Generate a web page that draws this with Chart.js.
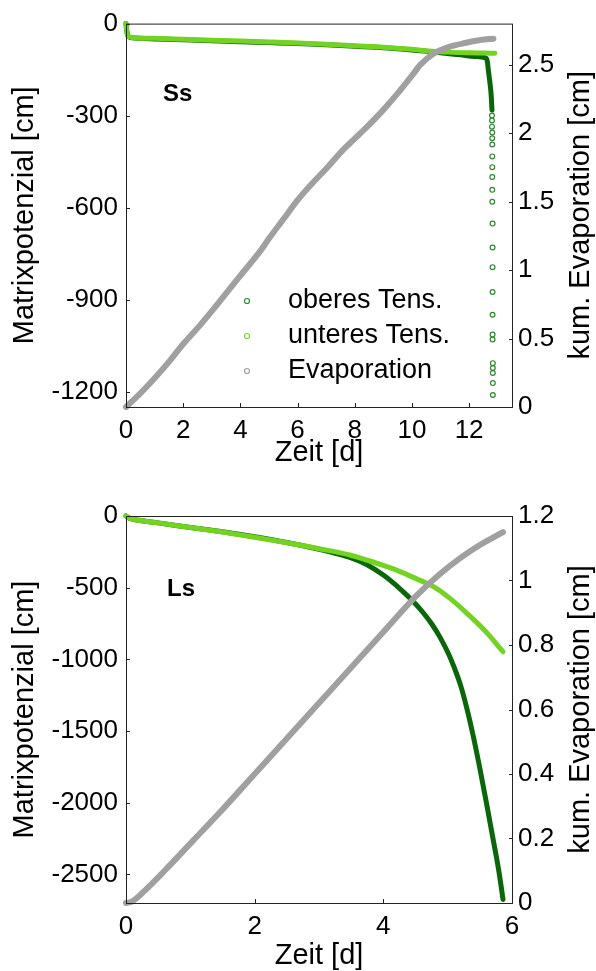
<!DOCTYPE html>
<html>
<head>
<meta charset="utf-8">
<script src="https://cdn.jsdelivr.net/npm/chart.js@4.4.0/dist/chart.umd.min.js"></script>
<style>
  html, body { margin: 0; padding: 0; background: #fff; }
  canvas { display: block; }
</style>
</head>
<body>
<canvas id="chartSs" width="596" height="486"></canvas>
<canvas id="chartLs" width="596" height="485"></canvas>
<script>
// Werte
const serienNamen = ['oberes Tens.', 'unteres Tens.', 'Evaporation'];

// --- Ss ---
const ssZeitTicks = [0, 2, 4, 6, 8, 10, 12];
const ssPotTicks = [0, -300, -600, -900, -1200];
const ssEvapTicks = [0, 0.5, 1, 1.5, 2, 2.5];

const ssOberesZeit = [0, 0.03, 0.08, 0.3, 1, 2, 3, 4, 5, 6, 7, 8, 9, 10, 11, 11.7, 12.2, 12.6, 12.64, 12.67, 12.7, 12.73, 12.76, 12.78, 12.79, 12.8];
const ssOberesPot = [0, -25, -42, -47, -50, -53, -56, -59, -62, -65, -69, -74, -79, -86, -95, -102, -107, -113, -125, -150, -172, -194, -220, -245, -265, -282];
// einzelne Messpunkte am Ende (Kreise)
const ssOberesEndeZeit = [12.8, 12.8, 12.8, 12.81, 12.81, 12.81, 12.81, 12.81, 12.81, 12.81, 12.81, 12.82, 12.82, 12.82, 12.82, 12.82, 12.82, 12.82, 12.83, 12.83, 12.83, 12.83, 12.83];
const ssOberesEndePot = [-300, -316, -336, -355, -374, -394, -433, -468, -500, -542, -581, -652, -730, -794, -875, -949, -1014, -1030, -1107, -1123, -1139, -1172, -1211];

const ssUnteresZeit = [0, 0.02, 0.05, 0.2, 1, 2, 3, 4, 5, 6, 7, 8, 9, 10, 10.7, 11.3, 12, 12.5, 12.9];
const ssUnteresPot = [0, -20, -38, -45, -48, -51, -54, -57, -60, -63, -67, -72, -77, -84, -90, -93, -95, -96, -97];

const ssEvapZeit = [0, 0.5, 1, 1.5, 2, 2.6, 3, 3.5, 4, 4.7, 5, 5.5, 6, 6.5, 7, 7.6, 8, 8.4, 9, 9.5, 10, 10.3, 10.75, 11.3, 11.9, 12.4, 12.85];
const ssEvapKum = [0, 0.1, 0.21, 0.33, 0.46, 0.6, 0.7, 0.83, 0.96, 1.14, 1.23, 1.37, 1.51, 1.63, 1.74, 1.88, 1.96, 2.04, 2.17, 2.29, 2.42, 2.5, 2.58, 2.63, 2.66, 2.68, 2.69];

// --- Ls ---
const lsZeitTicks = [0, 2, 4, 6];
const lsPotTicks = [0, -500, -1000, -1500, -2000, -2500];
const lsEvapTicks = [0, 0.2, 0.4, 0.6, 0.8, 1, 1.2];

const lsOberesZeit = [0, 0.05, 0.2, 0.5, 1, 1.5, 2, 2.5, 3, 3.3, 3.5, 3.74, 4, 4.26, 4.45, 4.62, 4.75, 4.88, 5.02, 5.1, 5.2, 5.3, 5.4, 5.5, 5.6, 5.7, 5.8, 5.86];
const lsOberesPot = [0, -15, -30, -48, -80, -110, -145, -185, -232, -265, -292, -338, -412, -508, -590, -675, -752, -845, -968, -1055, -1180, -1345, -1540, -1760, -1995, -2240, -2490, -2675];

const lsUnteresZeit = [0, 0.05, 0.2, 0.5, 1, 1.5, 2, 2.7, 3, 3.48, 3.74, 4, 4.26, 4.5, 4.78, 5.05, 5.3, 5.6, 5.86];
const lsUnteresPot = [0, -15, -30, -48, -80, -112, -148, -202, -228, -272, -307, -345, -388, -435, -493, -580, -679, -810, -947];

const lsEvapZeit = [0, 0.1, 0.3, 0.6, 1.05, 1.5, 2, 2.5, 3, 3.5, 4, 4.5, 4.88, 5.2, 5.5, 5.86];
const lsEvapKum = [0, 0.005, 0.04, 0.1, 0.195, 0.29, 0.4, 0.51, 0.62, 0.73, 0.84, 0.95, 1.02, 1.07, 1.11, 1.15];

const dunkelgruen = '#086808';
const hellgruen = '#72d420';
const grau = '#a0a0a0';
const kreisgruen = '#2a8c2a';
const familie = "'Liberation Sans', Arial, sans-serif";
const schrift = { family: familie, size: 26 };
const titelSchrift = { family: familie, size: 29 };

Chart.defaults.font.family = familie;
Chart.defaults.color = '#000';

function punkte(xs, ys) {
  return xs.map((x, i) => ({ x: x, y: ys[i] }));
}

function festeTicks(werte) {
  return scale => { scale.ticks = werte.map(v => ({ value: v })); };
}

// Rahmen, Ticks nach innen, rechter Achsentitel, Legende, Panelname
const rahmen = {
  id: 'rahmen',
  afterDraw(chart, args, opts) {
    const ctx = chart.ctx;
    const a = chart.chartArea;
    const s = chart.scales;
    ctx.save();
    ctx.strokeStyle = '#222';
    ctx.lineWidth = 1;
    ctx.strokeRect(a.left + 0.5, a.top + 0.5, a.right - a.left, a.bottom - a.top);
    ctx.beginPath();
    s.x.ticks.forEach(t => {
      const px = Math.round(s.x.getPixelForValue(t.value)) + 0.5;
      ctx.moveTo(px, a.bottom); ctx.lineTo(px, a.bottom - 4);
    });
    s.y.ticks.forEach(t => {
      const py = Math.round(s.y.getPixelForValue(t.value)) + 0.5;
      ctx.moveTo(a.left, py); ctx.lineTo(a.left + 4, py);
    });
    s.y2.ticks.forEach(t => {
      const py = Math.round(s.y2.getPixelForValue(t.value)) + 0.5;
      ctx.moveTo(a.right + 1, py); ctx.lineTo(a.right - 3, py);
    });
    ctx.stroke();

    // rechter Titel, von unten nach oben
    ctx.fillStyle = '#000';
    ctx.font = titelSchrift.size + 'px ' + familie;
    ctx.textAlign = 'center';
    ctx.textBaseline = 'middle';
    ctx.save();
    ctx.translate(581, (a.top + a.bottom) / 2);
    ctx.rotate(-Math.PI / 2);
    ctx.fillText('kum. Evaporation [cm]', 0, 0);
    ctx.restore();

    // Panelname
    ctx.font = 'bold 24px ' + familie;
    ctx.textAlign = 'left';
    ctx.fillText(opts.panel, opts.panelX, opts.panelY);

    if (opts.legende) {
      const farben = [kreisgruen, '#7ad63a', grau];
      ctx.font = '27px ' + familie;
      serienNamen.forEach((name, i) => {
        const y = 301 + i * 35;
        ctx.strokeStyle = farben[i];
        ctx.lineWidth = 1.2;
        ctx.beginPath();
        ctx.arc(247, y, 2.5, 0, Math.PI * 2);
        ctx.stroke();
        ctx.fillStyle = '#000';
        ctx.fillText(name, 288, y);
      });
    }
    ctx.restore();
  }
};

function linie(label, daten, farbe, breite, reihenfolge, achse) {
  return {
    label: label,
    data: daten,
    showLine: true,
    borderColor: farbe,
    backgroundColor: farbe,
    borderWidth: breite,
    borderCapStyle: 'round',
    borderJoinStyle: 'round',
    pointRadius: 0,
    cubicInterpolationMode: 'monotone',
    clip: false,
    order: reihenfolge,
    yAxisID: achse
  };
}

function optionen(cfg) {
  return {
    responsive: false,
    animation: false,
    layout: { padding: { top: cfg.oben, left: 0, right: 0, bottom: 0 } },
    plugins: {
      legend: { display: false },
      tooltip: { enabled: false },
      rahmen: { panel: cfg.panel, panelX: cfg.panelX, panelY: cfg.panelY, legende: cfg.legende }
    },
    scales: {
      x: {
        type: 'linear', position: 'bottom', min: 0, max: cfg.zeitMax,
        afterBuildTicks: festeTicks(cfg.zeitTicks),
        afterFit: s => { s.height = cfg.xHoehe; },
        grid: { display: false, drawTicks: false },
        border: { display: false },
        ticks: { font: schrift, color: '#000', padding: 8, maxRotation: 0, autoSkip: false, callback: v => String(v) },
        title: { display: true, text: 'Zeit [d]', font: titelSchrift, color: '#000', padding: { top: 0, bottom: cfg.titelUnten } }
      },
      y: {
        type: 'linear', position: 'left', min: cfg.potMin, max: 0,
        afterBuildTicks: festeTicks(cfg.potTicks),
        afterFit: s => { s.width = 126; },
        grid: { display: false, drawTicks: false },
        border: { display: false },
        ticks: { font: schrift, color: '#000', padding: 8, autoSkip: false, callback: v => String(v) },
        title: { display: true, text: 'Matrixpotenzial [cm]', font: titelSchrift, color: '#000', padding: { top: 8, bottom: 0 } }
      },
      y2: {
        type: 'linear', position: 'right', min: 0, max: cfg.evapMax,
        afterBuildTicks: festeTicks(cfg.evapTicks),
        afterFit: s => { s.width = 84; },
        grid: { display: false, drawTicks: false, drawOnChartArea: false },
        border: { display: false },
        ticks: { font: schrift, color: '#000', padding: 6, autoSkip: false, callback: v => String(v) },
        title: { display: false }
      }
    }
  };
}

new Chart(document.getElementById('chartSs'), {
  type: 'scatter',
  data: {
    datasets: [
      linie(serienNamen[2], punkte(ssEvapZeit, ssEvapKum), grau, 6, 0, 'y2'),
      linie(serienNamen[1], punkte(ssUnteresZeit, ssUnteresPot), hellgruen, 5, 1, 'y'),
      linie(serienNamen[0], punkte(ssOberesZeit, ssOberesPot), dunkelgruen, 5, 2, 'y'),
      {
        label: serienNamen[0],
        data: punkte(ssOberesEndeZeit, ssOberesEndePot),
        showLine: false,
        pointRadius: 2.4,
        pointBorderWidth: 1.2,
        borderColor: kreisgruen,
        backgroundColor: 'rgba(0,0,0,0)',
        order: 3,
        yAxisID: 'y'
      }
    ]
  },
  options: optionen({
    oben: 20, xHoehe: 79, titelUnten: 16,
    zeitMax: 13.5, zeitTicks: ssZeitTicks,
    potMin: -1250, potTicks: ssPotTicks,
    evapMax: 2.8, evapTicks: ssEvapTicks,
    panel: 'Ss', panelX: 163, panelY: 94, legende: true
  }),
  plugins: [rahmen]
});

new Chart(document.getElementById('chartLs'), {
  type: 'scatter',
  data: {
    datasets: [
      linie(serienNamen[2], punkte(lsEvapZeit, lsEvapKum), grau, 6, 0, 'y2'),
      linie(serienNamen[1], punkte(lsUnteresZeit, lsUnteresPot), hellgruen, 5, 1, 'y'),
      linie(serienNamen[0], punkte(lsOberesZeit, lsOberesPot), dunkelgruen, 5, 2, 'y')
    ]
  },
  options: optionen({
    oben: 30, xHoehe: 68, titelUnten: -2,
    zeitMax: 6, zeitTicks: lsZeitTicks,
    potMin: -2700, potTicks: lsPotTicks,
    evapMax: 1.2, evapTicks: lsEvapTicks,
    panel: 'Ls', panelX: 167, panelY: 103, legende: false
  }),
  plugins: [rahmen]
});
</script>
</body>
</html>
